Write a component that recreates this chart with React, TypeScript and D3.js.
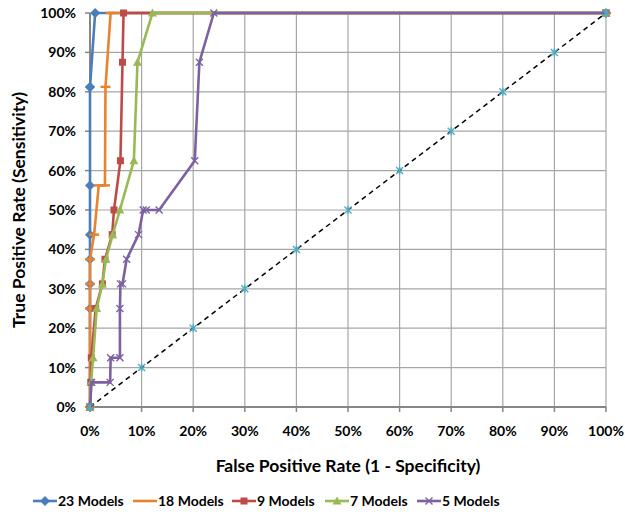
import React from "react";
import * as d3 from "d3";

// ROC points (fractions)
const fpr23 = [0, 0, 0, 0, 0, 0, 0, 0, 0.01, 1];
const tpr23 = [0, 0.25, 0.3125, 0.375, 0.4375, 0.5625, 0.8125, 0.8125, 1, 1];

const fpr18 = [0, 0, 0, 0, 0.008, 0.017, 0.029, 0.03, 0.04, 1];
const tpr18 = [0, 0.25, 0.3125, 0.375, 0.4375, 0.5625, 0.5625, 0.8125, 1, 1];

const fpr9 = [0, 0.0015, 0.0025, 0.011, 0.024, 0.029, 0.043, 0.0465, 0.059, 0.063, 0.065, 1];
const tpr9 = [0, 0.0625, 0.125, 0.25, 0.3125, 0.375, 0.4375, 0.5, 0.625, 0.875, 1, 1];

const fpr7 = [0, 0.002, 0.006, 0.013, 0.024, 0.031, 0.044, 0.058, 0.085, 0.092, 0.121, 1];
const tpr7 = [0, 0.0625, 0.125, 0.25, 0.3125, 0.375, 0.4375, 0.5, 0.625, 0.875, 1, 1];

const fpr5 = [0, 0.003, 0.039, 0.04, 0.058, 0.058, 0.059, 0.063, 0.071, 0.094, 0.103, 0.109, 0.134, 0.203, 0.212, 0.24, 1];
const tpr5 = [0, 0.0625, 0.0625, 0.125, 0.125, 0.25, 0.3125, 0.3125, 0.375, 0.4375, 0.5, 0.5, 0.5, 0.625, 0.875, 1, 1];

const diag = [0, 0.1, 0.2, 0.3, 0.4, 0.5, 0.6, 0.7, 0.8, 0.9, 1];

const ticks = [0, 0.1, 0.2, 0.3, 0.4, 0.5, 0.6, 0.7, 0.8, 0.9, 1];

const seriesNames = ["23 Models", "18 Models", "9 Models", "7 Models", "5 Models"];
const seriesColors = ["#4a7ebb", "#e8832f", "#be4b48", "#98b954", "#7d60a0"];
const seriesMarkers = ["diamond", "dash", "square", "triangle", "x"];

const W = 625;
const H = 514;
const x = d3.scaleLinear().domain([0, 1]).range([90, 606]);
const y = d3.scaleLinear().domain([0, 1]).range([407, 13]);
const pct = d3.format(".0%");
const font = "Lato, 'Open Sans', sans-serif";

function Marker({ kind, cx, cy, color }: { kind: string; cx: number; cy: number; color: string }) {
  if (kind === "diamond") {
    const r = 5;
    return <path d={`M${cx},${cy - r}L${cx + r},${cy}L${cx},${cy + r}L${cx - r},${cy}Z`} fill={color} />;
  }
  if (kind === "dash") {
    return <line x1={cx - 5} x2={cx + 5} y1={cy} y2={cy} stroke={color} strokeWidth={2.5} />;
  }
  if (kind === "square") {
    return <rect x={cx - 3.5} y={cy - 3.5} width={7} height={7} fill={color} />;
  }
  if (kind === "triangle") {
    return <path d={`M${cx},${cy - 4.5}L${cx + 4.5},${cy + 3.5}L${cx - 4.5},${cy + 3.5}Z`} fill={color} />;
  }
  if (kind === "x") {
    const r = 3.5;
    return (
      <path
        d={`M${cx - r},${cy - r}L${cx + r},${cy + r}M${cx - r},${cy + r}L${cx + r},${cy - r}`}
        stroke={color}
        strokeWidth={1.4}
        fill="none"
      />
    );
  }
  if (kind === "star") {
    const r = 3.5;
    return (
      <path
        d={`M${cx - r},${cy - r}L${cx + r},${cy + r}M${cx - r},${cy + r}L${cx + r},${cy - r}M${cx},${cy - r - 0.5}L${cx},${cy + r + 0.5}`}
        stroke={color}
        strokeWidth={1.4}
        fill="none"
      />
    );
  }
  return null;
}

export default function App() {
  const series = [
    [fpr23, tpr23],
    [fpr18, tpr18],
    [fpr9, tpr9],
    [fpr7, tpr7],
    [fpr5, tpr5],
  ];
  const line = d3
    .line<[number, number]>()
    .x((d) => x(d[0]))
    .y((d) => y(d[1]));

  const legendX = [33, 133, 232, 325, 417];
  const legendY = 506;

  return (
    <svg width={W} height={H} style={{ position: "absolute", left: 0, top: 0, background: "#fff" }}>
      {/* grid */}
      {ticks.map((t) => (
        <g key={"g" + t}>
          <line x1={x(t)} x2={x(t)} y1={y(0)} y2={y(1)} stroke="#a6a6a6" strokeWidth={1.2} />
          <line x1={x(0)} x2={x(1)} y1={y(t)} y2={y(t)} stroke="#a6a6a6" strokeWidth={1.2} />
        </g>
      ))}
      {/* axes */}
      <line x1={x(0)} x2={x(1)} y1={y(0)} y2={y(0)} stroke="#868686" strokeWidth={2} />
      <line x1={x(0)} x2={x(0)} y1={y(0)} y2={y(1)} stroke="#868686" strokeWidth={2} />
      {ticks.map((t) => (
        <g key={"t" + t}>
          <line x1={x(t)} x2={x(t)} y1={y(0)} y2={y(0) + 5} stroke="#868686" strokeWidth={1.5} />
          <line x1={x(0) - 5} x2={x(0)} y1={y(t)} y2={y(t)} stroke="#868686" strokeWidth={1.5} />
          <text
            x={x(t)}
            y={y(0) + 29}
            textAnchor="middle"
            fontFamily={font}
            fontWeight="bold"
            fontSize={14}
            fill="#000"
          >
            {pct(t)}
          </text>
          <text
            x={x(0) - 14}
            y={y(t) + 5}
            textAnchor="end"
            fontFamily={font}
            fontWeight="bold"
            fontSize={14}
            fill="#000"
          >
            {pct(t)}
          </text>
        </g>
      ))}
      {/* axis titles */}
      <text x={348} y={472} textAnchor="middle" fontFamily={font} fontWeight="bold" fontSize={17.5} fill="#000">
        False Positive Rate (1 - Specificity)
      </text>
      <text
        transform={`translate(25,210) rotate(-90)`}
        textAnchor="middle"
        fontFamily={font}
        fontWeight="bold"
        fontSize={17.5}
        fill="#000"
      >
        True Positive Rate (Sensitivity)
      </text>
      {/* series */}
      {series.map(([fx, ty], i) => {
        const pts = fx.map((v, j) => [v, ty[j]] as [number, number]);
        return (
          <g key={"s" + i}>
            <path d={line(pts) || ""} fill="none" stroke={seriesColors[i]} strokeWidth={2.6} />
            {pts.map((p, j) => (
              <Marker key={j} kind={seriesMarkers[i]} cx={x(p[0])} cy={y(p[1])} color={seriesColors[i]} />
            ))}
          </g>
        );
      })}
      {/* diagonal reference */}
      <path
        d={line(diag.map((d) => [d, d] as [number, number])) || ""}
        fill="none"
        stroke="#000"
        strokeWidth={1.5}
        strokeDasharray="5,4"
      />
      {diag.map((d) => (
        <Marker key={"d" + d} kind="star" cx={x(d)} cy={y(d)} color="#4bacc6" />
      ))}
      {/* legend */}
      {seriesNames.map((n, i) => (
        <g key={"l" + n}>
          <line
            x1={legendX[i]}
            x2={legendX[i] + 24}
            y1={legendY - 5}
            y2={legendY - 5}
            stroke={seriesColors[i]}
            strokeWidth={2.6}
          />
          <Marker
            kind={seriesMarkers[i] === "dash" ? "none" : seriesMarkers[i]}
            cx={legendX[i] + 12}
            cy={legendY - 5}
            color={seriesColors[i]}
          />
          <text x={legendX[i] + 25} y={legendY} fontFamily={font} fontWeight="bold" fontSize={14} fill="#000">
            {n}
          </text>
        </g>
      ))}
    </svg>
  );
}
